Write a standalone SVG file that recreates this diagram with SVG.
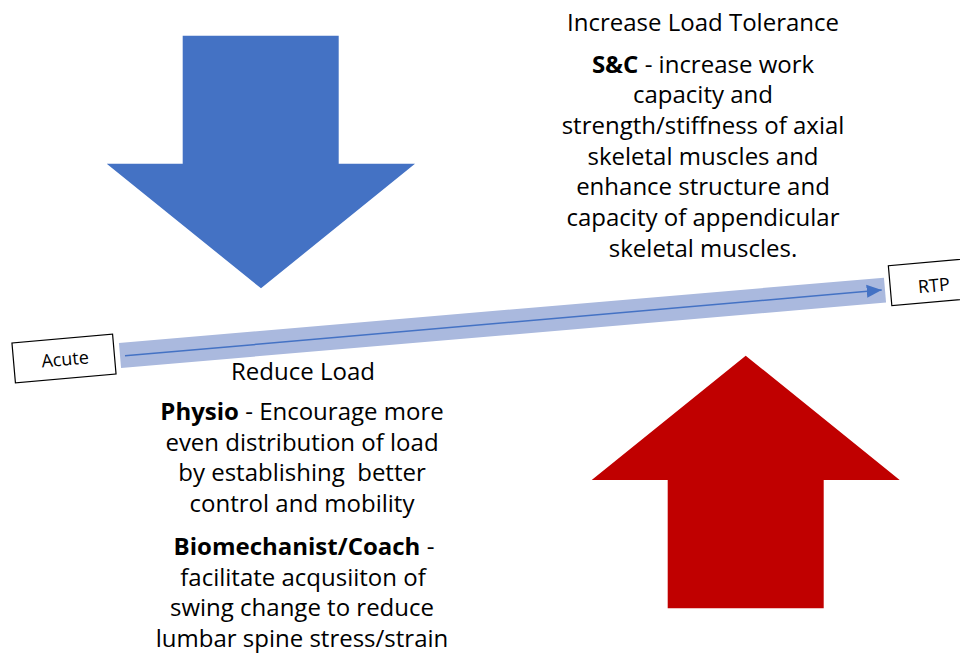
<svg xmlns="http://www.w3.org/2000/svg" width="960" height="655" viewBox="0 0 960 655">
<style>
.t{font-family:"Open Sans","Noto Sans","Liberation Sans",sans-serif;font-size:24px;fill:#000;text-anchor:middle}
.b{font-weight:bold}
.box{fill:#fff;stroke:#000;stroke-width:1.2}
.bt{font-family:"Open Sans","Noto Sans","Liberation Sans",sans-serif;font-size:18px;fill:#000;text-anchor:middle}
</style>
<defs>
<marker id="ah" markerUnits="userSpaceOnUse" markerWidth="16" markerHeight="14" refX="15" refY="7" orient="auto">
<polygon points="0,0.5 15,7 0,13.5" fill="#4472C4"/>
</marker>
</defs>
<rect width="960" height="655" fill="#fff"/>
<g id="reduce-arrow">
<polygon points="182.7,35.7 338.7,35.7 338.7,163.7 415,163.7 261,288.3 106.7,163.7 182.7,163.7" fill="#4472C4"/>
</g>
<g id="tolerance-arrow">
<polygon points="745.7,355.7 899.7,480 823.7,480 823.7,608.3 667.7,608.3 667.7,480 591.7,480" fill="#C00000"/>
</g>
<g id="connectors">
<line x1="120" y1="355.5" x2="885" y2="290.1" stroke="#AAB9DE" stroke-width="25"/>
<line x1="125" y1="355.8" x2="881.7" y2="290" stroke="#4472C4" stroke-width="1.5" marker-end="url(#ah)"/>
</g>
<g id="acute" transform="translate(64,358.5) rotate(-5)">
<rect class="box" x="-50.5" y="-20" width="101" height="40"/>
<text class="bt" x="1" y="7">Acute</text>
</g>
<g id="rtp" transform="translate(940.4,281.2) rotate(-5)">
<rect class="box" x="-50.5" y="-20" width="101" height="40"/>
<text class="bt" x="-7" y="10">RTP</text>
</g>
<g id="tolerance-text">
<text class="t" x="703" y="30.5">Increase Load Tolerance</text>
<text class="t" x="703" y="72.5"><tspan class="b">S&amp;C</tspan> - increase work</text>
<text class="t" x="703" y="103.2">capacity and</text>
<text class="t" x="703" y="133.9">strength/stiffness of axial</text>
<text class="t" x="703" y="164.6">skeletal muscles and</text>
<text class="t" x="703" y="195.3">enhance structure and</text>
<text class="t" x="703" y="226">capacity of appendicular</text>
<text class="t" x="703" y="256.7">skeletal muscles.</text>
</g>
<g id="reduce-text">
<text class="t" x="303" y="380">Reduce Load</text>
<text class="t" x="302" y="420"><tspan class="b">Physio</tspan> - Encourage more</text>
<text class="t" x="302" y="450.7">even distribution of load</text>
<text class="t" x="302" y="481.4" xml:space="preserve">by establishing  better</text>
<text class="t" x="302" y="512.1">control and mobility</text>
<text class="t" x="304" y="555"><tspan class="b">Biomechanist/Coach</tspan> -</text>
<text class="t" x="303" y="585.7">facilitate acqusiiton of</text>
<text class="t" x="302" y="616.4">swing change to reduce</text>
<text class="t" x="302" y="647.1">lumbar spine stress/strain</text>
</g>
</svg>
